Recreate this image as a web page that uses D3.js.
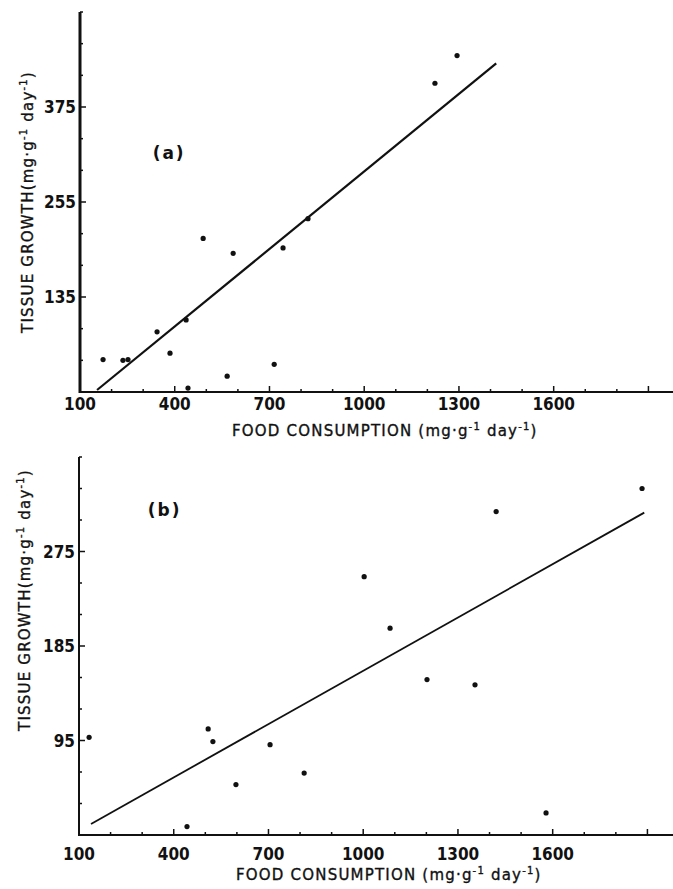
<!DOCTYPE html>
<html>
<head>
<meta charset="utf-8">
<script src="https://cdn.jsdelivr.net/npm/d3@7"></script>
<style>
  body { margin: 0; background: #fff; }
  svg text { fill: #111; }
  .tick-lbl { font-family: "Liberation Sans Narrow", "DejaVu Sans Condensed", sans-serif; font-weight: bold; font-size: 17px; }
  .title { font-family: "DejaVu Sans", sans-serif; font-size: 15px; letter-spacing: 1.2px; stroke: #111; stroke-width: 0.35px; }
  .tag { font-family: "DejaVu Sans", sans-serif; font-size: 17px; font-weight: bold; letter-spacing: 2px; }
</style>
</head>
<body>
<div id="chart"></div>
<script>
// panel (a)
var foodA = [173, 236, 252, 344, 385, 436, 442, 490, 566, 585, 715, 743, 822, 1224, 1294]
var growthA = [56, 55, 56, 91, 64, 106, 20, 209, 35, 190, 50, 197, 234, 405, 440]
var fitXA = [154, 1418]
var fitYA = [17.5, 430]
var yTicksA = [135, 255, 375]

// panel (b)
var foodB = [132, 442, 509, 524, 597, 705, 813, 1003, 1085, 1202, 1354, 1421, 1579, 1883]
var growthB = [98, 13, 106, 94, 53, 91, 64, 251, 202, 153, 148, 313, 26, 335]
var fitXB = [138, 1890]
var fitYB = [15.5, 312]
var yTicksB = [95, 185, 275]

var xTicks = [100, 400, 700, 1000, 1300, 1600]

var width = 673, height = 889

var svg = d3.select("#chart")
  .append("svg")
  .attr("width", width)
  .attr("height", height)

function drawPanel(opt) {
  var g = svg.append("g")

  var xScale = d3.scaleLinear()
    .domain([100, 2000])
    .range([opt.left, opt.left + 600])

  var yScale = d3.scaleLinear()
    .domain(opt.yDomain)
    .range([opt.bottom, opt.top])

  // minor + major ticks, pointing into the plot
  var xMinor = d3.range(200, 2000, 100)
  g.selectAll(".xminor")
    .data(xMinor)
    .enter()
    .append("line")
    .attr("x1", d => xScale(d)).attr("x2", d => xScale(d))
    .attr("y1", opt.bottom).attr("y2", d => opt.bottom - (xTicks.includes(d) || d === 1900 ? 6 : 3))
    .attr("stroke", "#111").attr("stroke-width", 1.5)

  var yMinor = d3.range(opt.yDomain[0], opt.yDomain[1] + 1, opt.yStep)
  g.selectAll(".yminor")
    .data(yMinor)
    .enter()
    .append("line")
    .attr("x1", opt.left).attr("x2", d => opt.left + (opt.yTicks.includes(d) ? 6 : 3))
    .attr("y1", d => yScale(d)).attr("y2", d => yScale(d))
    .attr("stroke", "#111").attr("stroke-width", 1.5)

  // axis lines
  g.append("line")
    .attr("x1", opt.left).attr("x2", width)
    .attr("y1", opt.bottom).attr("y2", opt.bottom)
    .attr("stroke", "#111").attr("stroke-width", 2)
  g.append("line")
    .attr("x1", opt.left).attr("x2", opt.left)
    .attr("y1", opt.bottom + 1).attr("y2", opt.top)
    .attr("stroke", "#111").attr("stroke-width", opt.axisW)

  // tick labels
  g.selectAll(".xlbl")
    .data(xTicks)
    .enter()
    .append("text")
    .attr("class", "tick-lbl")
    .attr("x", d => xScale(d))
    .attr("y", opt.bottom + opt.xLblOff)
    .style("text-anchor", "middle")
    .text(d => d)

  g.selectAll(".ylbl")
    .data(opt.yTicks)
    .enter()
    .append("text")
    .attr("class", "tick-lbl")
    .attr("x", opt.left - 4)
    .attr("y", d => yScale(d) + 6)
    .style("text-anchor", "end")
    .text(d => d)

  // regression line
  var line = d3.line()
    .x(d => xScale(d[0]))
    .y(d => yScale(d[1]))
  g.append("path")
    .datum(d3.zip(opt.fitX, opt.fitY))
    .attr("d", line)
    .attr("fill", "none")
    .attr("stroke", "#111")
    .attr("stroke-width", opt.lineW)

  // points
  g.selectAll(".pt")
    .data(d3.zip(opt.food, opt.growth))
    .enter()
    .append("circle")
    .attr("cx", d => xScale(d[0]))
    .attr("cy", d => yScale(d[1]))
    .attr("r", 2.6)
    .attr("fill", "#111")

  // panel label
  g.append("text")
    .attr("class", "tag")
    .attr("x", xScale(opt.tag[0]))
    .attr("y", yScale(opt.tag[1]))
    .text(opt.tag[2])

  // x title
  var xt = g.append("text")
    .attr("class", "title")
    .attr("x", opt.xTitle[0])
    .attr("y", opt.bottom + opt.xTitle[1])
  xt.append("tspan").text("FOOD CONSUMPTION  (mg·g")
  xt.append("tspan").attr("dy", -6).style("font-size", "10px").text("-1")
  xt.append("tspan").attr("dy", 6).text(" day")
  xt.append("tspan").attr("dy", -6).style("font-size", "10px").text("-1")
  xt.append("tspan").attr("dy", 6).text(")")

  // y title
  var yt = g.append("text")
    .attr("class", "title")
    .attr("transform", `translate(${opt.yTitle[0]},${opt.yTitle[1]}) rotate(-90)`)
    .style("text-anchor", "middle")
  yt.append("tspan").text("TISSUE GROWTH(mg·g")
  yt.append("tspan").attr("dy", -6).style("font-size", "10px").text("-1")
  yt.append("tspan").attr("dy", 6).text(" day")
  yt.append("tspan").attr("dy", -6).style("font-size", "10px").text("-1")
  yt.append("tspan").attr("dy", 6).text(")")
}

drawPanel({
  left: 80, top: 12, bottom: 392,
  yDomain: [15, 495], yStep: 40, yTicks: yTicksA,
  food: foodA, growth: growthA, fitX: fitXA, fitY: fitYA,
  axisW: 3, lineW: 2.2, xLblOff: 18,
  tag: [330, 309, "(a)"],
  xTitle: [232, 44], yTitle: [33, 202]
})

drawPanel({
  left: 79, top: 457, bottom: 835,
  yDomain: [5, 365], yStep: 30, yTicks: yTicksB,
  food: foodB, growth: growthB, fitX: fitXB, fitY: fitYB,
  axisW: 2, lineW: 1.8, xLblOff: 25,
  tag: [318, 309, "(b)"],
  xTitle: [236, 45], yTitle: [30, 600]
})
</script>
</body>
</html>
